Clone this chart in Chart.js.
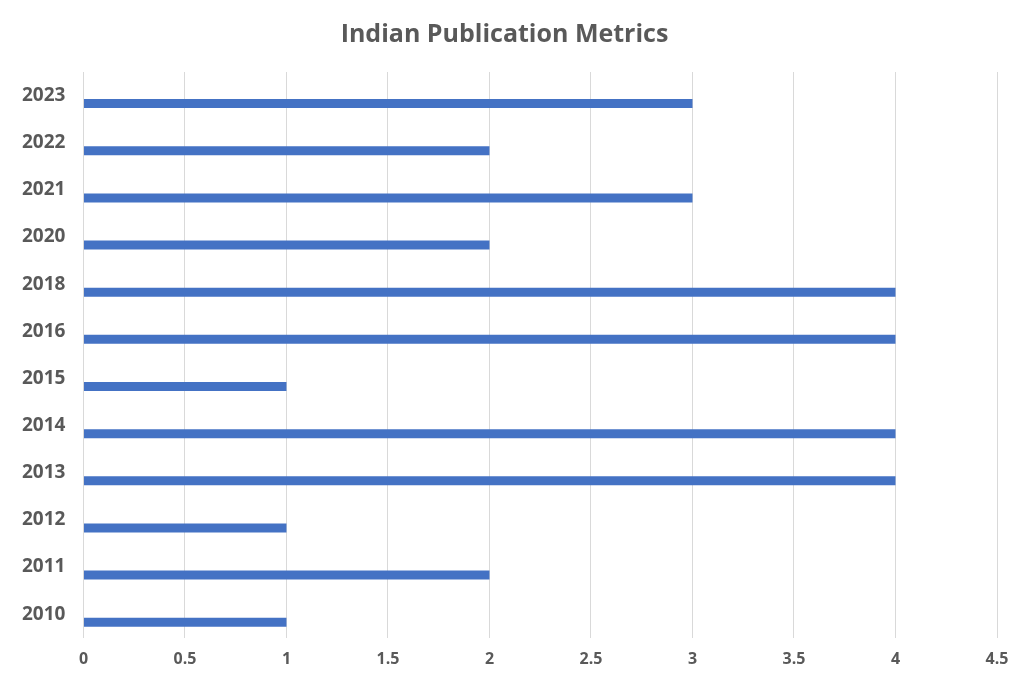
<!DOCTYPE html>
<html>
<head>
<meta charset="utf-8">
<script src="https://cdn.jsdelivr.net/npm/chart.js@4"></script>
<style>
html,body{margin:0;padding:0;background:#fff;}
#wrap{width:1030px;height:687px;}
</style>
</head>
<body>
<div id="wrap"><canvas id="c" width="1030" height="687"></canvas></div>
<script>
const years = ['2023','2022','2021','2020','2018','2016','2015','2014','2013','2012','2011','2010'];
const counts = [3, 2, 3, 2, 4, 4, 1, 4, 4, 1, 2, 1];
const xTicks = [0, 0.5, 1, 1.5, 2, 2.5, 3, 3.5, 4, 4.5];

const ctx = document.getElementById('c').getContext('2d');
new Chart(ctx, {
    type: 'bar',
    data: {
        labels: years,
        datasets: [
            { label: 'blank', data: years.map(() => null), backgroundColor: 'rgba(0,0,0,0)' },
            { label: 'Publications', data: counts, backgroundColor: '#4472C4' }
        ]
    },
    options: {
        indexAxis: 'y',
        responsive: false,
        animation: false,
        layout: { padding: { left: 12, right: 33, top: 6, bottom: 6 } },
        categoryPercentage: 0.68,
        barPercentage: 0.56,
        plugins: {
            legend: { display: false },
            tooltip: { enabled: false },
            title: {
                display: true,
                text: 'Indian Publication Metrics',
                color: '#595959',
                font: { family: 'Open Sans', size: 25, weight: 'bold' },
                padding: { top: 14, bottom: 22 }
            }
        },
        scales: {
            x: {
                min: 0, max: 4.5,
                afterBuildTicks: axis => { axis.ticks = xTicks.map(v => ({ value: v })); },
                grid: { color: '#d9d9d9', drawTicks: false },
                border: { display: false },
                ticks: {
                    color: '#595959', padding: 12,
                    font: { family: 'Open Sans', size: 16, weight: 'bold' },
                    callback: v => String(v)
                }
            },
            y: {
                grid: { display: false },
                border: { display: false },
                ticks: { color: '#595959', padding: 10, font: { family: 'Open Sans', size: 19, weight: 'bold' } }
            }
        }
    }
});
</script>
</body>
</html>
